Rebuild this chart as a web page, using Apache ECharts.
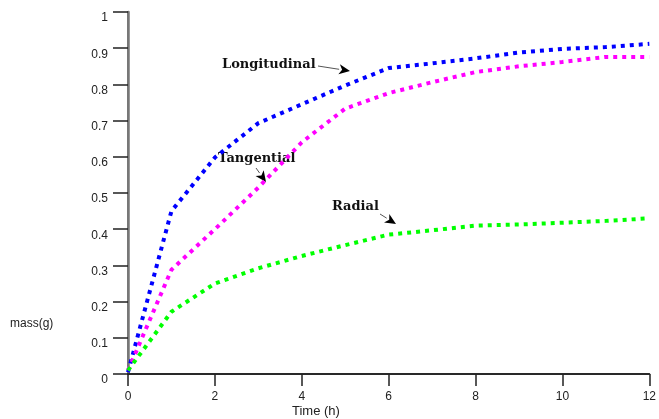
<!DOCTYPE html>
<html>
<head>
<meta charset="utf-8">
<script src="https://cdn.jsdelivr.net/npm/echarts@6/dist/echarts.min.js"></script>
<style>
  html, body { margin: 0; padding: 0; background: #fff; }
  #chart { width: 659px; height: 419px; }
</style>
</head>
<body>
<div id="chart"></div>
<script>
// time in hours
const hours = [0, 1, 2, 3, 4, 5, 6, 7, 8, 9, 10, 11, 12];
// mass (g)
const longitudinal = [0.005, 0.45, 0.598, 0.693, 0.745, 0.797, 0.845, 0.858, 0.872, 0.888, 0.898, 0.903, 0.912];
const tangential = [0.01, 0.288, 0.4, 0.515, 0.64, 0.733, 0.776, 0.806, 0.834, 0.85, 0.862, 0.876, 0.876];
const radial = [0.01, 0.172, 0.25, 0.292, 0.326, 0.356, 0.385, 0.397, 0.41, 0.413, 0.418, 0.423, 0.43];
const yTicks = [0, 0.1, 0.2, 0.3, 0.4, 0.5, 0.6, 0.7, 0.8, 0.9, 1];

const chart = echarts.init(document.getElementById('chart'), null, { renderer: 'canvas' });

function pairs(vals) {
  return hours.map((h, i) => [h, vals[i]]);
}

function dotted(name, color, vals) {
  return {
    name: name,
    type: 'line',
    data: pairs(vals),
    showSymbol: false,
    smooth: false,
    lineStyle: { color: color, width: 4, type: [4, 5], cap: 'butt' },
    z: 3
  };
}

const labelFont = { fontFamily: 'Liberation Sans, Arial, sans-serif', fontSize: 12, color: '#222' };
const noteFont = { fontFamily: 'DejaVu Serif, serif', fontWeight: 'bold', fontSize: 13, fill: '#111' };

function arrow(x1, y1, x2, y2) {
  const ang = Math.atan2(y2 - y1, x2 - x1);
  const len = 11, wid = 5;
  const bx = x2 - len * Math.cos(ang), by = y2 - len * Math.sin(ang);
  const px = -Math.sin(ang) * wid, py = Math.cos(ang) * wid;
  return [
    { type: 'line', shape: { x1: x1, y1: y1, x2: bx, y2: by }, style: { stroke: '#555', lineWidth: 1 } },
    { type: 'polygon', shape: { points: [[x2, y2], [bx + px, by + py], [bx + 3 * Math.cos(ang), by + 3 * Math.sin(ang)], [bx - px, by - py]] }, style: { fill: '#000' } }
  ];
}

const option = {
  backgroundColor: '#fff',
  animation: false,
  grid: { left: 128, right: 7, top: 12, bottom: 45 },
  xAxis: [{
    type: 'value', min: 0, max: 12, interval: 2,
    axisLine: { show: true, onZero: false, lineStyle: { color: '#777', width: 2 } },
    axisTick: { show: true, inside: false, length: 12, lineStyle: { color: '#222', width: 1.5 } },
    axisLabel: Object.assign({ margin: 17 }, labelFont),
    splitLine: { show: false }
  }, {
    type: 'value', min: 0, max: 12, position: 'top',
    axisLine: { show: true, lineStyle: { color: '#111', width: 1.5 } },
    axisTick: { show: false }, axisLabel: { show: false }, splitLine: { show: false }
  }],
  yAxis: [{
    type: 'value', min: 0, max: 1, interval: 0.1,
    axisLine: { show: true, onZero: false, lineStyle: { color: '#777', width: 2 } },
    axisTick: { show: true, inside: false, length: 15, lineStyle: { color: '#222', width: 1.5 } },
    axisLabel: Object.assign({
      margin: 20,
      verticalAlign: 'top',
      formatter: v => yTicks.indexOf(Math.round(v * 10) / 10) >= 0 ? String(Math.round(v * 10) / 10) : ''
    }, labelFont),
    splitLine: { show: false }
  }, {
    type: 'value', min: 0, max: 1, position: 'right',
    axisLine: { show: true, lineStyle: { color: '#777', width: 2.5 } },
    axisTick: { show: false }, axisLabel: { show: false }, splitLine: { show: false }
  }],
  series: [
    dotted('Longitudinal', '#0000ff', longitudinal),
    dotted('Tangential', '#ff00ff', tangential),
    dotted('Radial', '#00ff00', radial)
  ],
  graphic: [
    { type: 'text', left: 10, top: 318, style: { text: 'mass(g)', font: '12px Liberation Sans, Arial, sans-serif', fill: '#222' } },
    { type: 'text', left: 292, top: 405, style: { text: 'Time (h)', font: '13px Liberation Sans, Arial, sans-serif', fill: '#222' } },
    { type: 'text', left: 222, top: 58, style: Object.assign({ text: 'Longitudinal' }, noteFont) },
    { type: 'text', left: 218, top: 152, style: Object.assign({ text: 'Tangential' }, noteFont) },
    { type: 'text', left: 332, top: 200, style: Object.assign({ text: 'Radial' }, noteFont) }
  ].concat(arrow(318, 66, 350, 71), arrow(256, 168, 266, 182), arrow(380, 214, 396, 224))
};

chart.setOption(option);
</script>
</body>
</html>
